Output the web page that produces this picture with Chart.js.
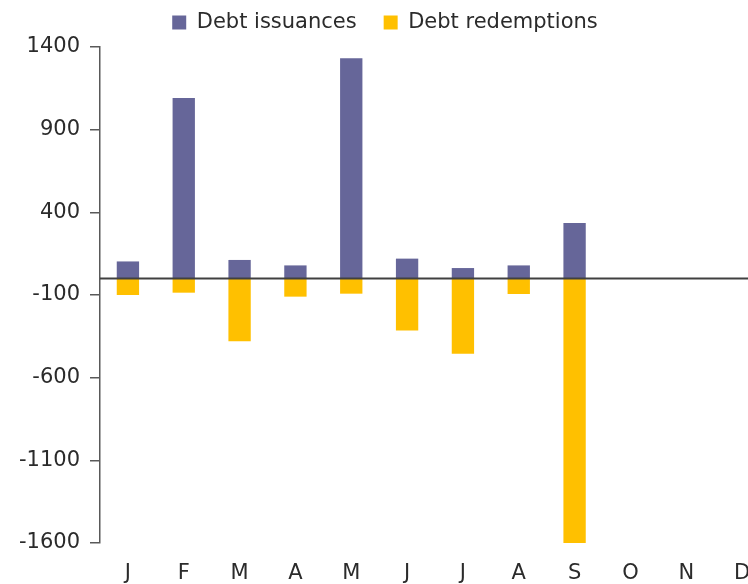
<!DOCTYPE html>
<html>
<head>
<meta charset="utf-8">
<script src="https://cdn.jsdelivr.net/npm/chart.js@4"></script>
<style>
  html, body { margin: 0; padding: 0; overflow: hidden; background: #fff; }
  #wrap { width: 770px; height: 584px; position: relative; }
</style>
</head>
<body>
<div id="wrap"><canvas id="chart"></canvas></div>
<script>
// 月ラベル
const months = ['J', 'F', 'M', 'A', 'M', 'J', 'J', 'A', 'S', 'O', 'N', 'D'];
// 発行額 / 償還額
const issuances = [103, 1092, 112, 79, 1332, 120, 63, 79, 335, null, null, null];
const redemptions = [-100, -86, -380, -110, -92, -315, -456, -94, -1605, null, null, null];
// y軸の範囲
const yMin = -1600;
const yMax = 1400;
const yStep = 500;

const textColor = '#2b2b2b';
const fontFamily = "'DejaVu Sans', Verdana, sans-serif";

// ゼロ線を描くプラグイン
const zeroLine = {
  id: 'zeroLine',
  afterDatasetsDraw(chart) {
    const { ctx, chartArea, scales } = chart;
    const y = scales.y.getPixelForValue(0);
    ctx.save();
    ctx.strokeStyle = '#404040';
    ctx.lineWidth = 2;
    ctx.beginPath();
    ctx.moveTo(chartArea.left, y);
    ctx.lineTo(chartArea.right, y);
    ctx.stroke();
    ctx.restore();
  }
};

// 凡例の下に少し余白を足す
const legendGap = {
  id: 'legendGap',
  beforeInit(chart) {
    const fit = chart.legend.fit;
    chart.legend.fit = function () {
      fit.bind(chart.legend)();
      this.height += 4;
    };
  }
};

new Chart(document.getElementById('chart'), {
  type: 'bar',
  data: {
    labels: months,
    datasets: [
      {
        label: 'Debt issuances',
        data: issuances,
        backgroundColor: '#666699'
      },
      {
        label: 'Debt redemptions',
        data: redemptions,
        backgroundColor: '#FFC000'
      }
    ]
  },
  options: {
    responsive: true,
    maintainAspectRatio: false,
    animation: false,
    datasets: {
      bar: {
        categoryPercentage: 1,
        barPercentage: 0.4
      }
    },
    layout: {
      padding: { top: -15, right: 0, bottom: 0, left: 0 }
    },
    plugins: {
      legend: {
        position: 'top',
        labels: {
          color: textColor,
          boxWidth: 14,
          boxHeight: 14,
          padding: 27,
          font: { family: fontFamily, size: 21 }
        }
      },
      tooltip: { enabled: false }
    },
    scales: {
      x: {
        stacked: true,
        grid: { display: false, drawTicks: false },
        border: { display: false },
        ticks: {
          color: textColor,
          padding: 18,
          font: { family: fontFamily, size: 21 }
        },
        afterFit(scale) { scale.height = 41; }
      },
      y: {
        stacked: true,
        min: yMin,
        max: yMax,
        grid: {
          drawOnChartArea: false,
          drawTicks: true,
          tickLength: 10,
          color: '#595959',
          lineWidth: 1.5
        },
        border: { display: true, color: '#595959', width: 1.5 },
        ticks: {
          stepSize: yStep,
          color: textColor,
          padding: 10,
          font: { family: fontFamily, size: 21 },
          callback: (value) => String(value)
        },
        afterFit(scale) { scale.width = 100; }
      }
    }
  },
  plugins: [zeroLine, legendGap]
});
</script>
</body>
</html>
